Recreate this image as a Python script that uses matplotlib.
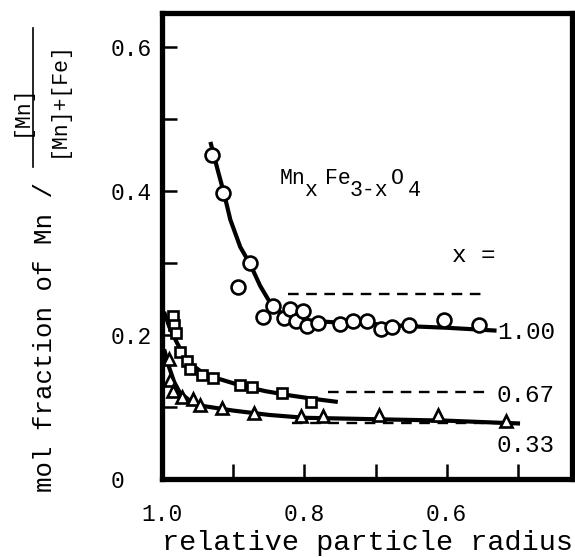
import matplotlib.pyplot as plt
from matplotlib.lines import Line2D

plt.rcParams['font.family'] = ['Liberation Mono', 'DejaVu Sans Mono']

# measured points, x = 1.00 (circles)
r_100 = [0.930, 0.914, 0.893, 0.876, 0.858, 0.844, 0.829, 0.820, 0.812, 0.802,
         0.796, 0.781, 0.750, 0.732, 0.712, 0.692, 0.677, 0.653, 0.604, 0.555]
f_100 = [0.450, 0.397, 0.267, 0.300, 0.225, 0.240, 0.224, 0.236, 0.219, 0.233,
         0.212, 0.216, 0.215, 0.219, 0.219, 0.208, 0.211, 0.214, 0.221, 0.214]
# hand drawn curve through them
cr_100 = [0.932, 0.922, 0.913, 0.904, 0.890, 0.876, 0.862, 0.850, 0.840, 0.828,
          0.810, 0.780, 0.750, 0.700, 0.650, 0.600, 0.530]
cf_100 = [0.468, 0.430, 0.397, 0.360, 0.322, 0.298, 0.268, 0.248, 0.236, 0.228,
          0.222, 0.219, 0.217, 0.215, 0.212, 0.210, 0.206]

# x = 0.67 (squares)
r_067 = [0.985, 0.983, 0.980, 0.975, 0.965, 0.960, 0.944, 0.928, 0.890, 0.874,
         0.832, 0.790]
f_067 = [0.226, 0.214, 0.203, 0.176, 0.164, 0.153, 0.144, 0.140, 0.131, 0.128,
         0.120, 0.107]
cr_067 = [0.997, 0.990, 0.982, 0.972, 0.960, 0.945, 0.920, 0.890, 0.855, 0.820,
          0.785, 0.753]
cf_067 = [0.232, 0.212, 0.195, 0.176, 0.160, 0.149, 0.139, 0.130, 0.122, 0.116,
          0.111, 0.107]

# x = 0.33 (triangles)
r_033 = [0.990, 0.989, 0.985, 0.972, 0.956, 0.947, 0.916, 0.871, 0.805, 0.774,
         0.695, 0.612, 0.517]
f_033 = [0.167, 0.137, 0.122, 0.114, 0.111, 0.103, 0.099, 0.092, 0.087, 0.088,
         0.089, 0.089, 0.080]
cr_033 = [0.997, 0.990, 0.983, 0.975, 0.960, 0.940, 0.900, 0.850, 0.800, 0.700,
          0.600, 0.497]
cf_033 = [0.180, 0.155, 0.135, 0.120, 0.108, 0.101, 0.095, 0.089, 0.085, 0.083,
          0.081, 0.077]

# bulk composition (dashed lines)
bulk_r = [[0.823, 0.542], [0.767, 0.540], [0.817, 0.497]]
bulk_f = [0.257, 0.121, 0.078]
bulk_labels = ['1.00', '0.67', '0.33']

xticks = [1.0, 0.9, 0.8, 0.7, 0.6, 0.5]
xticklabels = ['1.0', '', '0.8', '', '0.6', '']
yticks = [0, 0.1, 0.2, 0.3, 0.4, 0.5, 0.6]
yticklabels = ['0', '', '0.2', '', '0.4', '', '0.6']

W, H = 575, 557


def px(x, y):
    # pixel position -> figure fraction
    return x / W, 1 - y / H


fig = plt.figure(figsize=(W / 100, H / 100), dpi=100)
ax = fig.add_axes([162 / W, 1 - 479 / H, 410 / W, 466 / H])

mk = dict(color='black', mfc='white', mec='black', mew=1.9, linestyle='none', zorder=3)
ax.plot(cr_100, cf_100, color='black', lw=3, solid_capstyle='butt')
ax.plot(r_100, f_100, marker='o', ms=10, **mk)
ax.plot(cr_067, cf_067, color='black', lw=3, solid_capstyle='butt')
ax.plot(r_067, f_067, marker='s', ms=7.5, **mk)
ax.plot(cr_033, cf_033, color='black', lw=3, solid_capstyle='butt')
ax.plot(r_033, f_033, marker='^', ms=8.5, **mk)

for rr, ff in zip(bulk_r, bulk_f):
    ax.plot(rr, [ff, ff], color='black', lw=1.7, dashes=(4.5, 3.2))

ax.set_xlim(1.0, 0.424)
ax.set_ylim(0, 0.647)

ax.set_xticks(xticks, xticklabels)
ax.set_yticks(yticks, yticklabels)
ax.tick_params(direction='in', length=11, width=1.8, labelsize=16.5)
ax.tick_params(axis='x', pad=17)
ax.tick_params(axis='y', pad=37)
for lab in ax.get_yticklabels():
    lab.set_horizontalalignment('left')
for s in ax.spines.values():
    s.set_linewidth(3.8)

# labels of the bulk lines
fig.text(*px(452, 262), 'x =', fontsize=17.5, ha='left', va='baseline')
for lab, yy in zip(bulk_labels, [339, 402, 452]):
    fig.text(*px(497, yy), lab, fontsize=17.5, ha='left', va='baseline')

# Mn_x Fe_3-x O_4, same size pieces with dropped subscripts
pieces = [('Mn', 280, 184), ('x', 304, 196), ('Fe', 325, 184),
          ('3-x', 350, 196), ('O', 391, 184), ('4', 408, 196)]
for t, xx, yy in pieces:
    fig.text(*px(xx, yy), t, fontsize=15.5, ha='left', va='baseline')

# axis titles
fig.text(*px(367, 550), 'relative particle radius', fontsize=20.5,
         ha='center', va='baseline')
fig.text(*px(45, 337), 'mol fraction of Mn /', fontsize=18.5, rotation=90,
         ha='center', va='center')
fig.text(*px(21, 110), '[Mn]', fontsize=15.5, rotation=90, ha='center', va='center')
fig.text(*px(58, 99), '[Mn]+[Fe]', fontsize=15.5, rotation=90, ha='center', va='center')
x0, y0 = px(33, 28)
x1, y1 = px(33, 167)
fig.add_artist(Line2D([x0, x1], [y0, y1], color='black', lw=1.2))

fig.savefig('out.png', dpi=100)
